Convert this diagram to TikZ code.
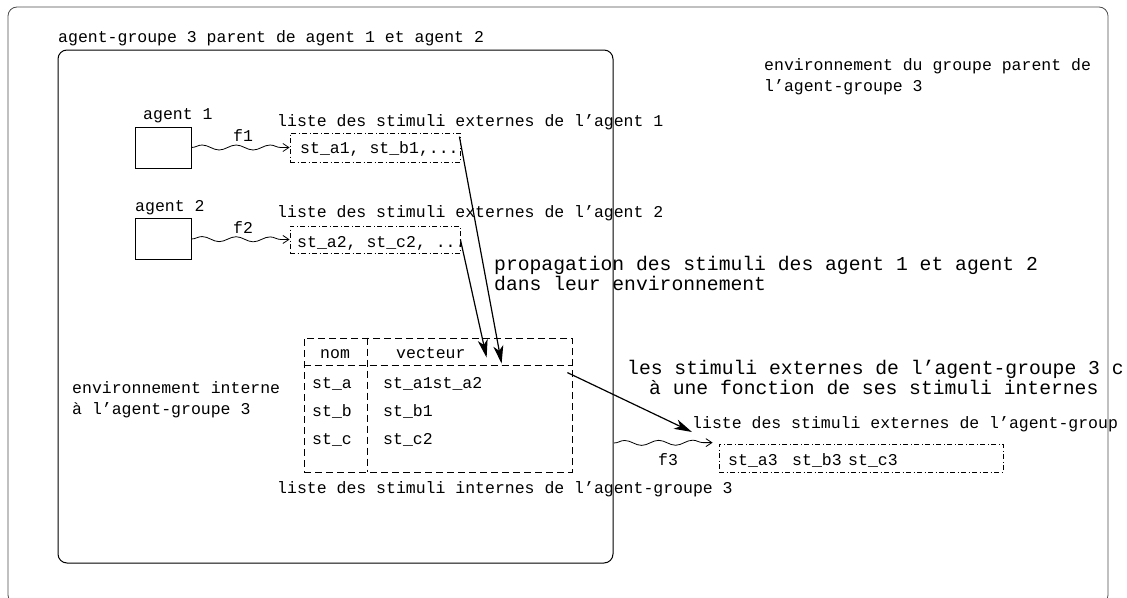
\documentclass[tikz,border=0pt]{standalone}
\usepackage{fontspec}
\newfontfamily\monofont{Liberation Mono}
\usetikzlibrary{arrows.meta,decorations.pathmorphing,calc}

\tikzset{
  lbl/.style={font=\monofont\fontsize{16.5}{20}\selectfont, inner sep=0pt, anchor=base west},
  biglbl/.style={font=\monofont\fontsize{19.7}{24}\selectfont, inner sep=0pt, anchor=base west},
  outerframe/.style={draw=black!70, line width=0.8pt, rounded corners=9pt},
  grpframe/.style={draw=black, line width=1pt, rounded corners=9pt},
  agentbox/.style={draw, line width=1pt, minimum width=56pt, minimum height=41pt, inner sep=0pt},
  stimbox/.style={draw, line width=0.8pt, dash pattern=on 5pt off 2.5pt on 1pt off 2.5pt, inner sep=0pt},
  tabline/.style={line width=0.8pt, dash pattern=on 7pt off 4pt},
  proparrow/.style={line width=1.2pt, -{Stealth[length=18pt,width=10pt,inset=5pt]}},
  wavearrow/.style={line width=0.8pt, decorate,
    decoration={snake, amplitude=2.5pt, segment length=34pt, post length=7pt},
    -{Straight Barb[length=6pt,width=8pt]}}
}

\begin{document}
\begin{tikzpicture}[x=1pt,y=-1pt]
\useasboundingbox (0,0) rectangle (1127,597);
\clip (0,0) rectangle (1127,597);

% frames: parent environment and agent-groupe 3
\draw[outerframe] (8,7) rectangle (1108,604);
\draw[grpframe] (58,50) rectangle (613,563);

\node[lbl] (grp) at (58,42) {agent-groupe 3 parent de agent 1 et agent 2};
\node[lbl] (envp1) at (764,70) {environnement du groupe parent de};
\node[lbl] (envp2) at (764,91) {l’agent-groupe 3};

% agents
\node[lbl] (ag1lbl) at (143,119) {agent 1};
\node[agentbox] (ag1) at (163,147.5) {};
\node[lbl] (ag2lbl) at (135,211) {agent 2};
\node[agentbox] (ag2) at (163,239) {};

% external stimuli of the agents
\node[lbl] (lst1) at (277,126) {liste des stimuli externes de l’agent 1};
\node[stimbox, minimum width=170pt, minimum height=29pt] (box1) at (375,147.5) {};
\node[lbl] (box1txt) at (300,153) {st\_a1, st\_b1,...};

\node[lbl] (lst2) at (277,217) {liste des stimuli externes de l’agent 2};
\node[stimbox, minimum width=170pt, minimum height=27pt] (box2) at (375,239.5) {};
\node[lbl] (box2txt) at (297,247) {st\_a2, st\_c2, ...};

\draw[wavearrow] (ag1.east) -- (box1.west);
\node[lbl] (f1) at (233,141) {f1};
\draw[wavearrow] (ag2.east) -- (box2.west);
\node[lbl] (f2) at (233,233) {f2};

\node[biglbl] (prop1) at (494,270) {propagation des stimuli des agent 1 et agent 2};
\node[biglbl] (prop2) at (494,290) {dans leur environnement};

% internal stimuli table
\node[draw, tabline, minimum width=268pt, minimum height=134pt, inner sep=0pt] (tab) at (438,405) {};
\draw[tabline] ($(tab.north west)+(0,28)$) -- ($(tab.north east)+(0,28)$);
\draw[tabline] ($(tab.north west)+(64,0)$) -- ($(tab.south west)+(64,0)$);
\node[lbl] (nom) at (320,358) {nom};
\node[lbl] (vect) at (396,358) {vecteur};
\node[lbl] (sta) at (312,388) {st\_a};
\node[lbl] (stb) at (312,416) {st\_b};
\node[lbl] (stc) at (312,444) {st\_c};
\node[lbl] (va) at (383,388) {st\_a1st\_a2};
\node[lbl] (vb) at (383,416) {st\_b1};
\node[lbl] (vc) at (383,444) {st\_c2};
\node[lbl] (intlbl) at (277,493) {liste des stimuli internes de l’agent-groupe 3};

\node[lbl] (envint1) at (72,393) {environnement interne};
\node[lbl] (envint2) at (72,414) {à l’agent-groupe 3};

% propagation arrows into the table
\coordinate (tA) at ($(tab.north west)+(198,26)$);
\coordinate (tB) at ($(tab.north west)+(183,20)$);
\draw[proparrow] ($(box1.north east)+(-1,4)$) -- (tA);
\draw[proparrow] (box2.east) -- (tB);

% external stimuli of agent-groupe 3
\node[biglbl] (les1) at (627,374) {les stimuli externes de l’agent-groupe 3 c};
\node[biglbl] (les2) at (649,394) {à une fonction de ses stimuli internes};
\node[lbl] (lst3) at (692,428) {liste des stimuli externes de l’agent-group};
\node[stimbox, minimum width=284pt, minimum height=28pt] (box3) at (861,458) {};
\node[lbl] (sta3) at (728,465) {st\_a3};
\node[lbl] (stb3) at (792,465) {st\_b3};
\node[lbl] (stc3) at (848,465) {st\_c3};

\coordinate (cS) at ($(tab.north east)+(-5,35)$);
\coordinate (cT) at ($(lst3.base west)+(0,4)$);
\draw[proparrow] (cS) -- (cT);

\coordinate (f3s) at (614,443);
\draw[wavearrow] (f3s) -- ($(box3.north west)+(-6,-1)$);
\node[lbl] (f3) at (658,465) {f3};
\end{tikzpicture}
\end{document}
